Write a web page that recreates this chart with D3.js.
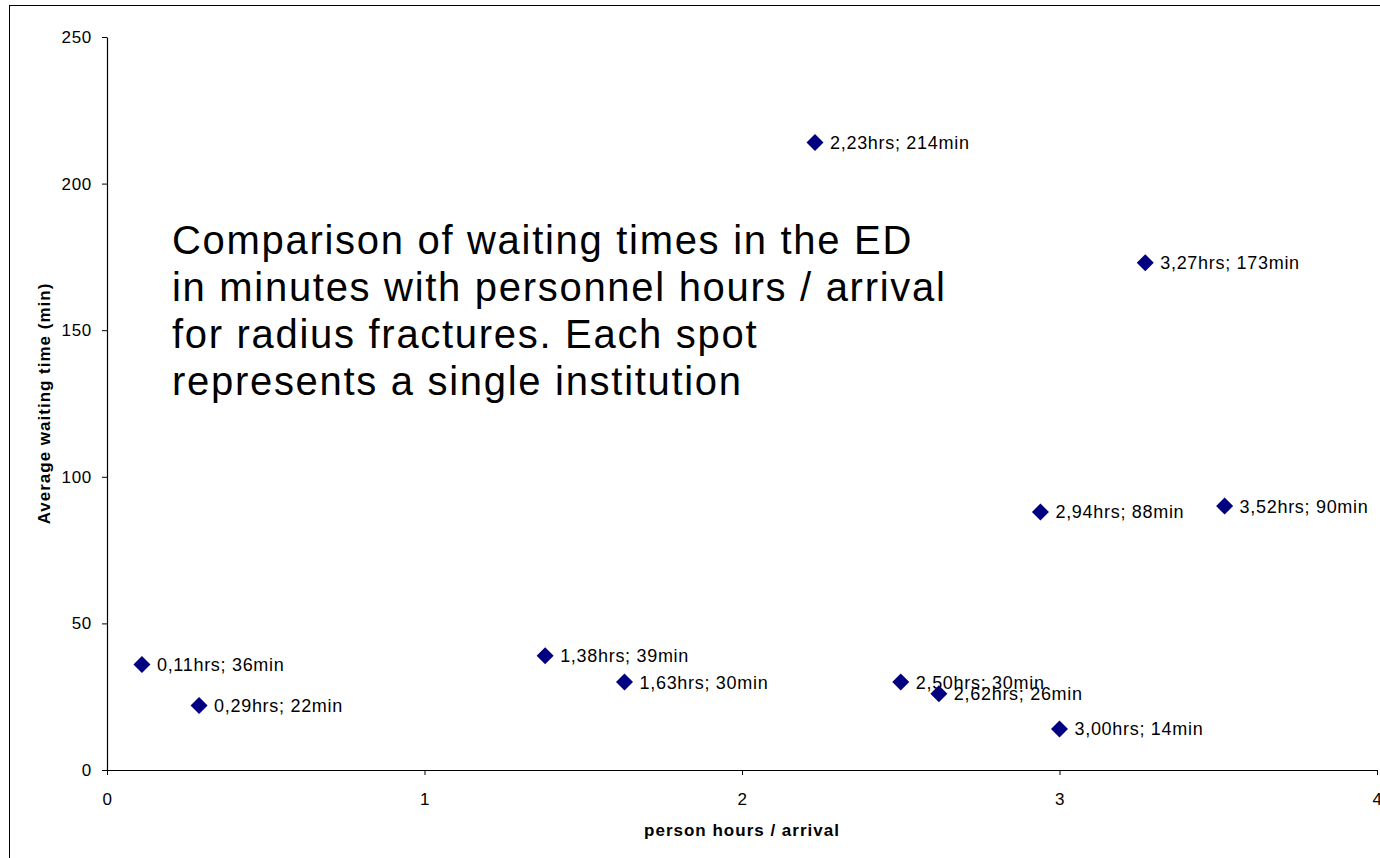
<!DOCTYPE html>
<html>
<head>
  <meta charset="UTF-8" />
  <title>waiting times</title>
  <script src="https://cdn.jsdelivr.net/npm/d3@7/dist/d3.min.js"></script>
  <style>
    body { margin: 0; background: #fff; }
    text { font-family: Arial, "Liberation Sans", sans-serif; }
  </style>
</head>
<body>
  <svg width="1380" height="858"></svg>
  <script>
    // data: person hours per arrival vs average waiting time (min)
    var hours = [0.11, 0.29, 1.38, 1.63, 2.23, 2.50, 2.62, 2.94, 3.00, 3.27, 3.52];
    var minutes = [36, 22, 39, 30, 214, 30, 26, 88, 14, 173, 90];
    var labels = [
      "0,11hrs; 36min", "0,29hrs; 22min", "1,38hrs; 39min", "1,63hrs; 30min",
      "2,23hrs; 214min", "2,50hrs; 30min", "2,62hrs; 26min", "2,94hrs; 88min",
      "3,00hrs; 14min", "3,27hrs; 173min", "3,52hrs; 90min"
    ];
    var xTicks = [0, 1, 2, 3, 4];
    var yTicks = [0, 50, 100, 150, 200, 250];
    var titleLines = [
      "Comparison of waiting times in the ED",
      "in minutes with personnel hours / arrival",
      "for radius fractures. Each spot",
      "represents a single institution"
    ];

    var svg = d3.select("svg");
    var marge = { top: 37, left: 107, right: 1377, bottom: 770 };

    // outer chart frame
    svg.append("rect")
      .attr("x", 9.5).attr("y", 5.5)
      .attr("width", 1420).attr("height", 900)
      .attr("fill", "none").attr("stroke", "#000").attr("stroke-width", 1);

    var x = d3.scaleLinear().domain([0, 4]).range([marge.left, marge.right]);
    var y = d3.scaleLinear().domain([0, 250]).range([marge.bottom, marge.top]);

    var xAxis = svg.append("g")
      .attr("transform", "translate(0," + marge.bottom + ")")
      .call(d3.axisBottom(x).tickValues(xTicks).tickFormat(d3.format("d"))
        .tickSizeInner(5).tickSizeOuter(0).tickPadding(18));
    var yAxis = svg.append("g")
      .attr("transform", "translate(" + marge.left + ",0)")
      .call(d3.axisLeft(y).tickValues(yTicks).tickFormat(d3.format("d"))
        .tickSizeInner(5).tickSizeOuter(0).tickPadding(10));

    [xAxis, yAxis].forEach(function (ax) {
      ax.select(".domain").attr("stroke", "#000").attr("stroke-width", 1.2);
      ax.selectAll(".tick line").attr("stroke", "#000");
      ax.selectAll(".tick text")
        .attr("fill", "#000")
        .style("font-size", "17px")
        .style("letter-spacing", "0.7px")
        .style("font-family", "Arial, 'Liberation Sans', sans-serif");
    });

    // axis titles
    svg.append("text")
      .attr("x", (marge.left + marge.right) / 2)
      .attr("y", 836)
      .attr("text-anchor", "middle")
      .attr("font-size", 17)
      .attr("letter-spacing", 1)
      .attr("font-weight", "bold")
      .text("person hours / arrival");

    svg.append("text")
      .attr("transform", "translate(50," + (marge.top + marge.bottom) / 2 + ") rotate(-90)")
      .attr("text-anchor", "middle")
      .attr("font-size", 17)
      .attr("letter-spacing", 1)
      .attr("font-weight", "bold")
      .text("Average waiting time (min)");

    // points
    var pts = svg.append("g").selectAll("g")
      .data(hours)
      .enter()
      .append("g")
      .attr("transform", function (d, i) {
        return "translate(" + x(d) + "," + y(minutes[i]) + ")";
      });

    pts.append("path")
      .attr("d", "M0,-8.5L8.5,0L0,8.5L-8.5,0Z")
      .attr("fill", "#000080");

    pts.append("text")
      .attr("x", 15)
      .attr("dy", "0.36em")
      .attr("font-size", 18)
      .attr("letter-spacing", 0.7)
      .attr("fill", "#000")
      .text(function (d, i) { return labels[i]; });

    // annotation
    svg.append("g").selectAll("text")
      .data(titleLines)
      .enter()
      .append("text")
      .attr("x", 172)
      .attr("y", function (d, i) { return 254 + i * 47; })
      .attr("font-size", 40)
      .attr("letter-spacing", 1.7)
      .attr("fill", "#000")
      .text(function (d) { return d; });
  </script>
</body>
</html>
